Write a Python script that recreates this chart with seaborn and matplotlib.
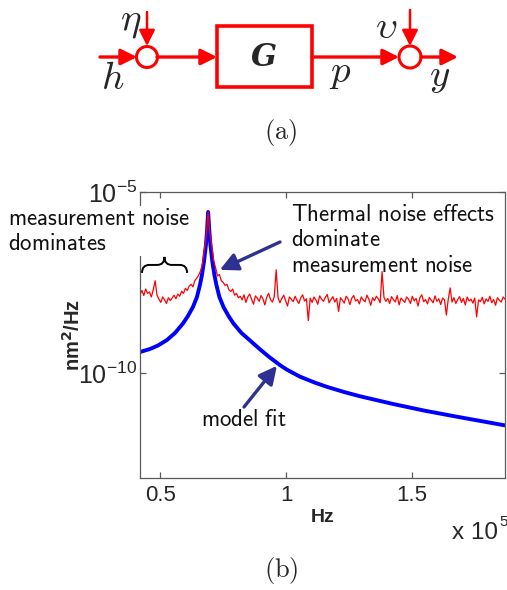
import numpy as np
import matplotlib.pyplot as plt
import seaborn as sns
from matplotlib.patches import Circle, Rectangle, PathPatch
from matplotlib.path import Path
from matplotlib.ticker import NullLocator

sns.set_style('ticks')
plt.rcParams['font.family'] = ['Liberation Sans', 'DejaVu Sans']

RED = '#ff0000'
BLUE = '#0000ff'
NAVY = '#2e3192'
SPINE = '#5a5a5a'

# measured PSD, log10(nm^2/Hz), evenly spaced from 0.42 to 1.87 (x 1e5 Hz)
measured_log_psd = [
    -7.84, -7.72, -7.86, -7.68, -7.80, -7.76, -7.90, -7.70, -7.45, -7.85,
    -7.96, -8.05, -7.90, -7.98, -8.08, -7.92, -8.00, -7.93, -7.85, -7.95,
    -7.82, -7.88, -7.74, -7.80, -7.66, -7.72,
    -7.60, -7.55, -7.62, -7.45, -7.38, -7.30, -7.18, -7.00, -6.60, -6.20,
    -5.55, -6.15, -6.50, -6.90, -7.10, -7.32, -7.28, -7.45, -7.50, -7.58,
    -7.55, -7.70, -7.75, -7.68, -7.85, -7.80, -7.92,
    -7.88, -7.98, -7.84, -8.05, -7.90, -7.82, -7.96, -8.10, -7.87, -7.93,
    -8.02, -7.86, -7.95, -8.12, -7.91, -7.80, -7.97, -8.04, -7.89, -7.15,
    -7.92, -8.06, -7.94, -7.85, -8.00, -8.15, -7.90, -7.96, -8.03, -7.88,
    -7.99, -8.08, -7.92, -7.84, -8.01, -7.95, -8.55, -7.93, -8.05, -7.90,
    -7.98, -8.10, -7.87, -7.96, -8.02, -7.91, -7.83, -8.06, -7.97, -7.89,
    -8.04, -7.94, -8.30, -7.92, -7.99, -8.07, -7.88, -7.95, -8.11, -7.93,
    -7.86, -8.01, -7.97, -8.09, -7.90, -7.98, -8.03, -7.85, -7.96, -8.13,
    -7.92, -8.00, -7.88, -7.95, -8.06, -7.20, -7.91, -8.02, -7.94, -8.08,
    -7.89, -7.97, -8.04, -7.86, -8.12, -7.93, -7.99, -8.05, -7.90, -7.96,
    -8.08, -7.88, -8.01, -7.94, -8.15, -7.92, -7.84, -8.03, -7.97, -8.09,
    -7.91, -7.99, -8.06, -7.87, -8.02, -7.95, -8.11, -7.93, -7.98, -8.40,
    -7.96, -7.65, -8.04, -7.92, -8.08, -7.97, -7.89, -8.05, -7.94, -8.12,
    -7.90, -8.01, -7.96, -8.07, -7.93, -8.45, -7.98, -8.03, -7.91, -8.09,
    -7.95, -8.02, -7.88, -8.06, -7.97, -8.13, -7.92, -7.99, -8.04, -7.90, -7.96,
]
measured_freq = np.linspace(0.42, 1.87, len(measured_log_psd))

# model fit
fit_freq = [0.4200, 0.4597, 0.4914, 0.5271, 0.5589, 0.5906, 0.6105, 0.6303, 0.6462, 0.6581,
            0.6660, 0.6740, 0.6819, 0.6859, 0.6906, 0.6958, 0.6998, 0.7077, 0.7156, 0.7236,
            0.7355, 0.7517, 0.7716, 0.7914, 0.8232, 0.8549, 0.8763, 0.8962, 0.9359, 0.9756,
            1.0033, 1.0549, 1.1144, 1.1621, 1.2335, 1.2930, 1.4240, 1.5510, 1.6899, 1.8089,
            1.8684]
fit_log_psd = [-9.420, -9.337, -9.240, -9.088, -8.895, -8.633, -8.425, -8.177, -7.901, -7.569,
               -7.293, -6.934, -6.464, -6.105, -5.552, -6.105, -6.464, -6.934, -7.293, -7.569,
               -7.901, -8.177, -8.425, -8.633, -8.895, -9.088, -9.221, -9.343, -9.572, -9.779,
               -9.906, -10.099, -10.265, -10.381, -10.530, -10.641, -10.853, -11.041, -11.221, -11.370,
               -11.445]

x_ticks = [0.5, 1, 1.5]
y_ticks = [1e-10, 1e-5]

W, H = 507, 590
fig = plt.figure(figsize=(W / 100, H / 100), dpi=100)

# ---- (b) PSD plot ----
ax = fig.add_axes([140 / W, 112 / H, 365 / W, 286 / H])
sns.lineplot(x=fit_freq, y=10 ** np.array(fit_log_psd), color=BLUE, lw=2.8,
             estimator=None, sort=False, ax=ax, solid_joinstyle='round')
sns.lineplot(x=measured_freq, y=10 ** np.array(measured_log_psd), color=RED, lw=0.9,
             estimator=None, sort=False, ax=ax)
ax.set_yscale('log')
ax.set_xlim(0.42, 1.87)
ax.set_ylim(10 ** -12.9, 1e-5)
ax.set_xticks(x_ticks)
ax.set_xticklabels(['0.5', '1', '1.5'])
ax.set_yticks(y_ticks)
ax.yaxis.set_minor_locator(NullLocator())
ax.tick_params(direction='in', top=True, right=True, length=4, width=0.9, color=SPINE)
ax.tick_params(axis='x', labelsize=16, pad=5)
ax.tick_params(axis='y', labelsize=18, pad=2)
for s in ax.spines.values():
    s.set_visible(True)
    s.set_color(SPINE)
    s.set_linewidth(0.9)
ax.set_xlabel('Hz', fontweight='bold', fontsize=14, labelpad=2)
ax.set_ylabel(r'nm$^{\mathbf{2}}$/Hz', fontweight='bold', fontsize=14.5)
ax.yaxis.set_label_coords(-0.153, 0.5)
fig.text(452 / W, 1 - 533 / H, 'x 10', fontsize=17.5, va='center')
fig.text(499 / W, 1 - 522 / H, '5', fontsize=11, va='center')


def sf(s):
    return '\n'.join(r'$\mathsf{' + line.replace(' ', r'\ ') + '}$' for line in s.split('\n'))


txt_kw = dict(fontsize=16.5, math_fontfamily='cm', color='#111111', linespacing=1.15)
arrow_kw = dict(arrowstyle='-|>,head_length=0.9,head_width=0.45', color=NAVY, lw=2.4,
                shrinkA=0, shrinkB=0, mutation_scale=12)

ax.text(8 / W, 1 - 231 / H, sf('measurement noise\ndominates'), transform=fig.transFigure,
        ha='left', va='center', zorder=6,
        bbox=dict(facecolor='white', edgecolor='none', pad=0.5), **txt_kw)
ax.annotate('', xy=(0.519, 10 ** -6.74), xytext=(123, H - 226), textcoords='figure pixels',
            arrowprops=arrow_kw, annotation_clip=False)

ax.text(291 / W, 1 - 240 / H, sf('Thermal noise effects\ndominate\nmeasurement noise'),
        transform=fig.transFigure, ha='left', va='center', **txt_kw)
ax.annotate('', xy=(0.737, 10 ** -7.15), xytext=(280, H - 242), textcoords='figure pixels',
            arrowprops=arrow_kw, annotation_clip=False)

ax.text(201 / W, 1 - 419 / H, sf('model fit'), transform=fig.transFigure,
        ha='left', va='center', **txt_kw)
ax.annotate('', xy=(0.964, 10 ** -9.80), xytext=(244, H - 407), textcoords='figure pixels',
            arrowprops=arrow_kw, annotation_clip=False)

# curly brace over the low-frequency band
x0, x1, xm = 0.0055, 0.129, 0.067
ye, ym, yt = 0.717, 0.745, 0.773
verts = [(x0, ye), (x0, ym), (x0 + 0.02, ym), (xm - 0.02, ym), (xm, ym), (xm, yt),
         (xm, ym), (xm + 0.02, ym), (x1 - 0.02, ym), (x1, ym), (x1, ye)]
codes = [Path.MOVETO, Path.CURVE3, Path.CURVE3, Path.LINETO, Path.CURVE3, Path.CURVE3,
         Path.CURVE3, Path.CURVE3, Path.LINETO, Path.CURVE3, Path.CURVE3]
ax.add_patch(PathPatch(Path(verts, codes), transform=ax.transAxes, facecolor='none',
                       edgecolor='black', lw=1.4, clip_on=False))

# ---- (a) block diagram ----
diag = fig.add_axes([0, 0, 1, 1])
diag.set_xlim(0, W)
diag.set_ylim(H, 0)
diag.axis('off')
diag.patch.set_alpha(0)


def red_arrow(p0, p1, lw=2.4):
    diag.annotate('', xy=p1, xytext=p0,
                  arrowprops=dict(arrowstyle='-|>,head_length=0.8,head_width=0.4', color=RED,
                                  lw=lw, shrinkA=0, shrinkB=0, mutation_scale=12))


red_arrow((100, 57), (137, 57))
red_arrow((157, 57), (217, 57))
red_arrow((312, 57), (399, 57))
red_arrow((421, 57), (458, 57))
red_arrow((147, 12), (147, 46), lw=1.8)
red_arrow((410, 10), (410, 46), lw=1.8)
diag.add_patch(Circle((147, 57), 10.5, facecolor='white', edgecolor=RED, lw=2.2))
diag.add_patch(Circle((410, 57), 11, facecolor='white', edgecolor=RED, lw=2.2))
diag.add_patch(Rectangle((217, 26), 95, 61, facecolor='white', edgecolor=RED, lw=2.6))

math_kw = dict(fontsize=28, math_fontfamily='cm', ha='center', va='center')
diag.text(131, 22, r'$\eta$', **math_kw)
diag.text(113, 79, r'$h$', **math_kw)
diag.text(340, 73, r'$p$', **math_kw)
diag.text(386, 28, r'$\upsilon$', **math_kw)
diag.text(440, 77, r'$y$', **math_kw)
diag.text(264, 57, 'G', fontsize=22, family='DejaVu Serif', fontweight='bold',
          fontstyle='italic', ha='center', va='center')
diag.text(281, 133, r'$\mathrm{(a)}$', fontsize=19, math_fontfamily='cm', ha='center', va='center')
diag.text(281, 570, r'$\mathrm{(b)}$', fontsize=19, math_fontfamily='cm', ha='center', va='center')

fig.savefig('out.png', dpi=100, facecolor='white')
